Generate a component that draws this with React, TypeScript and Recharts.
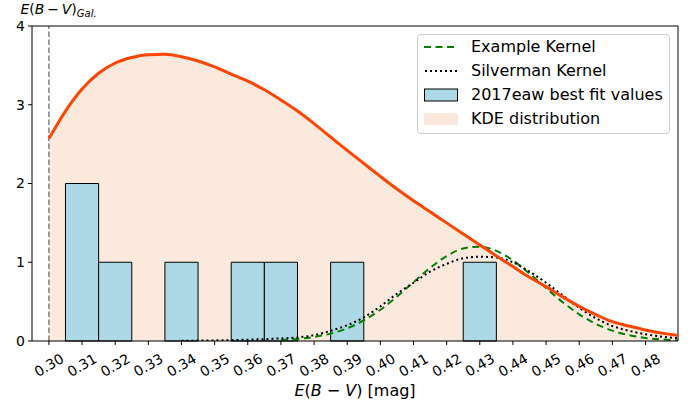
import React from "react";
import {
  ComposedChart,
  Area,
  Line,
  XAxis,
  YAxis,
  ReferenceArea,
  ReferenceLine,
  Legend,
} from "recharts";

// ---------- data ----------
const xTicks = [0.3, 0.31, 0.32, 0.33, 0.34, 0.35, 0.36, 0.37, 0.38, 0.39, 0.4, 0.41, 0.42, 0.43, 0.44, 0.45, 0.46, 0.47, 0.48];
const yTicks = [0, 1, 2, 3, 4];
const xDomain = [0.2949, 0.4898];
const yDomain = [0, 4];
const galacticEBV = 0.3;

const kdeX = [0.3, 0.305, 0.31, 0.315, 0.32, 0.325, 0.33, 0.335, 0.34, 0.345, 0.35, 0.355, 0.36, 0.365, 0.37, 0.375, 0.38, 0.385, 0.39, 0.395, 0.4, 0.405, 0.41, 0.415, 0.42, 0.425, 0.43, 0.435, 0.44, 0.445, 0.45, 0.455, 0.46, 0.465, 0.47, 0.475, 0.48, 0.485, 0.49];
const kdeY = [2.57, 2.92, 3.2, 3.4, 3.53, 3.6, 3.635, 3.64, 3.61, 3.555, 3.48, 3.39, 3.3, 3.19, 3.06, 2.92, 2.76, 2.59, 2.42, 2.255, 2.09, 1.93, 1.78, 1.64, 1.5, 1.36, 1.22, 1.08, 0.945, 0.81, 0.69, 0.56, 0.44, 0.335, 0.245, 0.19, 0.14, 0.1, 0.07];

const exampleX = [0.37, 0.375, 0.38, 0.385, 0.39, 0.395, 0.4, 0.405, 0.41, 0.415, 0.42, 0.425, 0.43, 0.435, 0.44, 0.445, 0.45, 0.455, 0.46, 0.465, 0.47, 0.475, 0.48, 0.485, 0.49];
const exampleY = [0.012, 0.026, 0.051, 0.094, 0.162, 0.262, 0.397, 0.563, 0.746, 0.927, 1.079, 1.175, 1.198, 1.145, 1.023, 0.857, 0.672, 0.493, 0.339, 0.218, 0.132, 0.074, 0.039, 0.019, 0.009];

const silvermanX = [0.34, 0.345, 0.35, 0.355, 0.36, 0.365, 0.37, 0.375, 0.38, 0.385, 0.39, 0.395, 0.4, 0.405, 0.41, 0.415, 0.42, 0.425, 0.43, 0.435, 0.44, 0.445, 0.45, 0.455, 0.46, 0.465, 0.47, 0.475, 0.48, 0.485, 0.49];
const silvermanY = [0.003, 0.005, 0.008, 0.012, 0.017, 0.024, 0.033, 0.045, 0.075, 0.13, 0.2, 0.3, 0.44, 0.6, 0.74, 0.88, 0.98, 1.05, 1.07, 1.06, 1.0, 0.88, 0.74, 0.58, 0.42, 0.29, 0.19, 0.13, 0.085, 0.055, 0.035];

const binStarts = [0.305, 0.315, 0.335, 0.355, 0.365, 0.385, 0.425];
const binEnds = [0.315, 0.325, 0.345, 0.365, 0.375, 0.395, 0.435];
const binCounts = [2, 1, 1, 1, 1, 1, 1];

const legendLabels = ["Example Kernel", "Silverman Kernel", "2017eaw best fit values", "KDE distribution"];

// ---------- styles ----------
const FONT = "DejaVu Sans";
const KDE_LINE = "#ff4500";
const KDE_FILL = "#fbe9dd";
const BAR_FILL = "#add8e6";
const GREEN = "#008000";

const kdeData = kdeX.map((x, i) => ({ x, y: kdeY[i] }));
const exampleData = exampleX.map((x, i) => ({ x, y: exampleY[i] }));
const silvermanData = silvermanX.map((x, i) => ({ x, y: silvermanY[i] }));
const bins = binStarts.map((s, i) => ({ x1: s, x2: binEnds[i], count: binCounts[i] }));

const XTick = (props: any) => {
  const { x, y, payload } = props;
  const cy = y + 18;
  return (
    <text
      x={x}
      y={cy}
      transform={`rotate(-30 ${x} ${cy})`}
      textAnchor="middle"
      dominantBaseline="central"
      fontFamily={FONT}
      fontSize={14}
      fill="#000"
    >
      {Number(payload.value).toFixed(2)}
    </text>
  );
};

const XLabel = (props: any) => {
  const vb = props.viewBox || { x: 32, y: 341, width: 646, height: 64 };
  const cx = vb.x + vb.width / 2;
  return (
    <text x={cx} y={vb.y + 55} textAnchor="middle" fontFamily={FONT} fontSize={16} fill="#000">
      <tspan fontStyle="italic">E</tspan>(<tspan fontStyle="italic">B</tspan>{" \u2212 "}
      <tspan fontStyle="italic">V</tspan>) [mag]
    </text>
  );
};

const YLabel = (props: any) => {
  const vb = props.viewBox || { x: 0, y: 26, width: 32, height: 315 };
  return (
    <text x={20.5} y={vb.y - 12} textAnchor="start" fontFamily={FONT} fontSize={14} fill="#000">
      <tspan fontStyle="italic">E</tspan>(<tspan fontStyle="italic">B</tspan>{"\u2009\u2212\u2009"}
      <tspan fontStyle="italic">V</tspan>)
      <tspan fontStyle="italic" fontSize={10} dy={3}>
        Gal.
      </tspan>
    </text>
  );
};

const swatch = (i: number) => {
  if (i === 0)
    return <line x1={0} y1={7} x2={33} y2={7} stroke={GREEN} strokeWidth={2} strokeDasharray="7 4.5" />;
  if (i === 1)
    return <line x1={1} y1={7} x2={33} y2={7} stroke="#000" strokeWidth={2} strokeDasharray="2 3" />;
  if (i === 2)
    return <rect x={0.5} y={1} width={33} height={12} fill={BAR_FILL} stroke="#000" strokeWidth={1} />;
  return <rect x={0} y={1} width={34} height={12} fill={KDE_FILL} />;
};

const renderLegend = () => (
  <div
    style={{
      boxSizing: "border-box",
      width: 253,
      height: 100,
      border: "1px solid #cccccc",
      borderRadius: 4,
      background: "rgba(255,255,255,0.8)",
      fontFamily: FONT,
      fontSize: 16,
      color: "#000",
      padding: "0 0 0 6px",
      lineHeight: "18px",
    }}
  >
    {legendLabels.map((label, i) => (
      <div key={label} style={{ display: "flex", alignItems: "center", height: 24 }}>
        <svg width={34} height={14} style={{ marginRight: 13, display: "block" }}>
          {swatch(i)}
        </svg>
        <span style={{ whiteSpace: "nowrap" }}>{label}</span>
      </div>
    ))}
  </div>
);

export default function App() {
  return (
    <div style={{ position: "absolute", left: 0, top: 0, width: 696, height: 405, background: "#fff" }}>
      <ComposedChart width={696} height={405} margin={{ top: 26, right: 18, bottom: 0, left: 0 }}>
        <XAxis
          dataKey="x"
          type="number"
          domain={xDomain}
          ticks={xTicks}
          allowDataOverflow
          height={64}
          tickSize={4}
          stroke="#000"
          tick={<XTick />}
          interval={0}
          label={(p: any) => <XLabel {...p} />}
        />
        <YAxis
          type="number"
          domain={yDomain}
          ticks={yTicks}
          allowDataOverflow
          width={32}
          tickSize={4}
          tickMargin={3}
          stroke="#000"
          tick={{ fill: "#000", fontSize: 14, fontFamily: FONT }}
          label={(p: any) => <YLabel {...p} />}
        />
        <Area
          data={kdeData}
          dataKey="y"
          type="monotone"
          stroke="none"
          fill={KDE_FILL}
          fillOpacity={1}
          isAnimationActive={false}
          dot={false}
          activeDot={false}
        />
        {bins.map((b, i) => (
          <ReferenceArea
            key={i}
            x1={b.x1}
            x2={b.x2}
            y1={0}
            y2={b.count}
            fill={BAR_FILL}
            fillOpacity={1}
            stroke="#000"
            strokeWidth={1}
            strokeOpacity={1}
          />
        ))}
        <ReferenceLine x={galacticEBV} stroke="#808080" strokeWidth={1.5} strokeDasharray="5.5 2.5" />
        <ReferenceLine y={yDomain[1]} stroke="#000" strokeWidth={1} />
        <ReferenceLine x={xDomain[1]} stroke="#000" strokeWidth={1} />
        <Line
          data={exampleData}
          dataKey="y"
          type="monotone"
          stroke={GREEN}
          strokeWidth={2}
          strokeDasharray="7 4.5"
          dot={false}
          activeDot={false}
          isAnimationActive={false}
        />
        <Line
          data={silvermanData}
          dataKey="y"
          type="monotone"
          stroke="#000"
          strokeWidth={2}
          strokeDasharray="2 3"
          dot={false}
          activeDot={false}
          isAnimationActive={false}
        />
        <Line
          data={kdeData}
          dataKey="y"
          type="monotone"
          stroke={KDE_LINE}
          strokeWidth={3}
          dot={false}
          activeDot={false}
          isAnimationActive={false}
        />
        <Legend
          layout="horizontal"
          verticalAlign="middle"
          align="center"
          content={renderLegend}
          wrapperStyle={{ position: "absolute", left: 417, top: 34, width: 253, height: 100, right: "auto", bottom: "auto" }}
        />
      </ComposedChart>
    </div>
  );
}
